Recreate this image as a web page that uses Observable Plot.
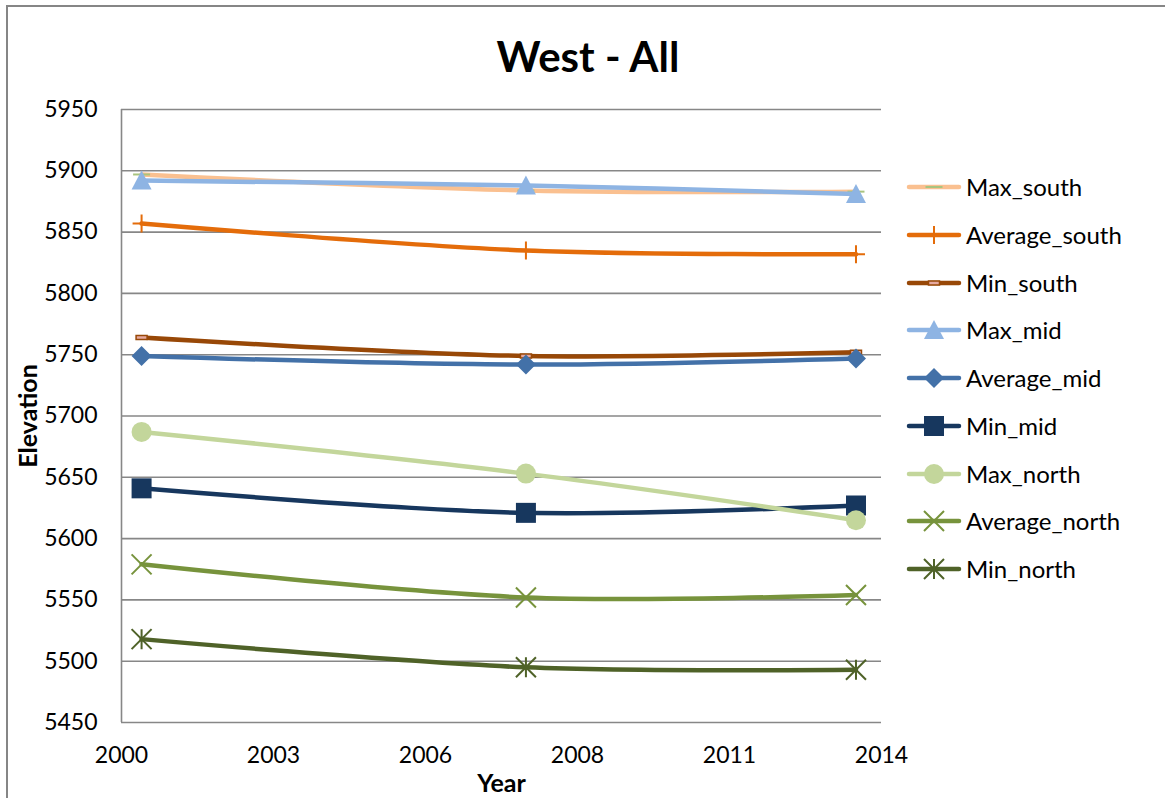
<!DOCTYPE html>
<html>
<head>
<meta charset="utf-8">
<script src="https://cdn.jsdelivr.net/npm/d3@7"></script>
<script src="https://cdn.jsdelivr.net/npm/@observablehq/plot@0.6"></script>
<style>
  html, body { margin: 0; padding: 0; background: #fff; }
  #chart { position: relative; width: 1165px; height: 798px; overflow: hidden; background: #fff; font-family: Lato, "Open Sans", sans-serif; }
  #border { position: absolute; left: 6px; top: 5px; width: 1200px; height: 900px; border: 2px solid #868686; box-sizing: border-box; }
  #title { position: absolute; left: 388px; width: 400px; top: 35px; line-height: 42px; font-size: 42px; font-weight: bold; text-align: center; color: #000; }
  #plot { position: absolute; left: 0; top: 0; }
  #legend { position: absolute; left: 900px; top: 0; }
  .item { position: absolute; left: 0; height: 40px; width: 265px; }
  .item svg { position: absolute; left: 0; top: 0; }
  .item span { position: absolute; left: 66px; top: 0; line-height: 40px; font-size: 24px; color: #000; white-space: nowrap; }
</style>
</head>
<body>
<div id="chart">
  <div id="border"></div>
  <div id="plot"></div>
  <div id="title">West - All</div>
  <div id="legend"></div>
</div>
<script>
// Survey years (fractional, mid-year dates) and elevations per zone
const years = [2000.37, 2007.45, 2013.53];

const seriesNames = ["Max_south", "Average_south", "Min_south", "Max_mid", "Average_mid", "Min_mid", "Max_north", "Average_north", "Min_north"];

const maxSouth     = [5897, 5884, 5883];
const averageSouth = [5857, 5835, 5832];
const minSouth     = [5764, 5749, 5752];
const maxMid       = [5892, 5888, 5881];
const averageMid   = [5749, 5742, 5747];
const minMid       = [5641, 5621, 5627];
const maxNorth     = [5687, 5653, 5615];
const averageNorth = [5579, 5552, 5554];
const minNorth     = [5518, 5495, 5493];

const seriesValues = [maxSouth, averageSouth, minSouth, maxMid, averageMid, minMid, maxNorth, averageNorth, minNorth];

const seriesColors = ["#FAC090", "#E46C0A", "#984807", "#8EB4E3", "#4371A8", "#17375E", "#C3D69B", "#77933C", "#4F6228"];

const yTicks = [5450, 5500, 5550, 5600, 5650, 5700, 5750, 5800, 5850, 5900, 5950];
const xTickValues = [2000, 2002.8, 2005.6, 2008.4, 2011.2, 2014];
const xTickLabels = ["2000", "2003", "2006", "2008", "2011", "2014"];

// Marker shapes drawn as custom symbols; size = π r², so h = r
const half = (size) => Math.sqrt(size / Math.PI);
const symbols = {
  dash: { draw(c, s) { const h = half(s); c.moveTo(-h * 0.85, 0); c.lineTo(h * 0.85, 0); } },
  plus: { draw(c, s) { const h = half(s) * 0.9; c.moveTo(-h, 0); c.lineTo(h, 0); c.moveTo(0, -h); c.lineTo(0, h); } },
  bar: { draw(c, s) { const h = half(s); c.rect(-h * 0.55, -h * 0.2, h * 1.1, h * 0.4); } },
  triangle: { draw(c, s) { const h = half(s); c.moveTo(0, -h); c.lineTo(h, h * 0.9); c.lineTo(-h, h * 0.9); c.closePath(); } },
  diamond: { draw(c, s) { const h = half(s); c.moveTo(0, -h); c.lineTo(h, 0); c.lineTo(0, h); c.lineTo(-h, 0); c.closePath(); } },
  square: { draw(c, s) { const h = half(s); c.rect(-h, -h, 2 * h, 2 * h); } },
  circle: { draw(c, s) { const h = half(s); c.moveTo(h, 0); c.arc(0, 0, h, 0, 2 * Math.PI); } },
  cross: { draw(c, s) { const h = half(s); c.moveTo(-h, -h); c.lineTo(h, h); c.moveTo(-h, h); c.lineTo(h, -h); } },
  star: { draw(c, s) { const h = half(s); c.moveTo(-h, -h); c.lineTo(h, h); c.moveTo(-h, h); c.lineTo(h, -h); c.moveTo(0, -h); c.lineTo(0, h); } }
};

// Marker style for each series
const markerStyles = [
  { symbol: symbols.dash, fill: "none", stroke: "#A9C47F", strokeWidth: 2 },
  { symbol: symbols.plus, fill: "none", stroke: "#E46C0A", strokeWidth: 2 },
  { symbol: symbols.bar, fill: "#E6A9A0", stroke: "#984807", strokeWidth: 1.5 },
  { symbol: symbols.triangle, fill: "#8EB4E3", stroke: "none", strokeWidth: 0 },
  { symbol: symbols.diamond, fill: "#4371A8", stroke: "none", strokeWidth: 0 },
  { symbol: symbols.square, fill: "#17375E", stroke: "none", strokeWidth: 0 },
  { symbol: symbols.circle, fill: "#C3D69B", stroke: "none", strokeWidth: 0 },
  { symbol: symbols.cross, fill: "none", stroke: "#77933C", strokeWidth: 2 },
  { symbol: symbols.star, fill: "none", stroke: "#4F6228", strokeWidth: 2 }
];

const rows = seriesNames.flatMap((name, i) =>
  years.map((year, j) => ({ series: name, year, value: seriesValues[i][j] }))
);

const seriesMarks = seriesNames.flatMap((name, i) => {
  const data = rows.filter((d) => d.series === name);
  const m = markerStyles[i];
  return [
    Plot.line(data, { x: "year", y: "value", stroke: seriesColors[i], strokeWidth: 4.5, curve: "catmull-rom", strokeLinecap: "round", strokeLinejoin: "round" }),
    Plot.dot(data, { x: "year", y: "value", symbol: m.symbol, r: 10, fill: m.fill, stroke: m.stroke, strokeWidth: m.strokeWidth })
  ];
});

const chart = Plot.plot({
  width: 1165,
  height: 798,
  marginLeft: 121,
  marginRight: 284,
  marginTop: 109,
  marginBottom: 76,
  style: { fontFamily: "Lato, 'Open Sans', sans-serif", background: "transparent", color: "#000" },
  x: { domain: [2000, 2014] },
  y: { domain: [5450, 5950] },
  marks: [
    Plot.ruleY(yTicks, { stroke: "#878787", strokeWidth: 1.6 }),
    Plot.ruleX([2000], { stroke: "#878787", strokeWidth: 1.6 }),
    Plot.axisY({ ticks: yTicks, tickSize: 0, tickPadding: 24, fontSize: 23, label: null, tickFormat: (d) => String(d) }),
    Plot.axisX({ ticks: xTickValues, tickSize: 0, tickPadding: 24, fontSize: 23, label: null, tickFormat: (d) => xTickLabels[xTickValues.indexOf(d)] }),
    Plot.text(["Elevation"], { frameAnchor: "left", dx: -93, rotate: -90, textAnchor: "middle", lineAnchor: "middle", fontSize: 25, fontWeight: "bold", fill: "#000" }),
    Plot.text(["Year"], { frameAnchor: "bottom", dy: 61, textAnchor: "middle", lineAnchor: "middle", fontSize: 25, fontWeight: "bold", fill: "#000" }),
    ...seriesMarks
  ]
});
document.getElementById("plot").append(chart);

// Legend: line sample with its marker, then the series name
const legend = document.getElementById("legend");
const legendTop = 187;
const legendStep = 47.75;
seriesNames.forEach((name, i) => {
  const m = markerStyles[i];
  const item = document.createElement("div");
  item.className = "item";
  const cy = legendTop + i * legendStep;
  item.style.top = (cy - 20) + "px";
  const p = d3.path();
  m.symbol.draw(p, Math.PI * 100);
  const svg = d3.create("svg").attr("width", 66).attr("height", 40);
  svg.append("line").attr("x1", 9).attr("x2", 59).attr("y1", 20).attr("y2", 20)
    .attr("stroke", seriesColors[i]).attr("stroke-width", 4.5).attr("stroke-linecap", "round");
  svg.append("path").attr("d", p.toString()).attr("transform", "translate(34,20)")
    .attr("fill", m.fill).attr("stroke", m.stroke).attr("stroke-width", m.strokeWidth);
  item.append(svg.node());
  const span = document.createElement("span");
  span.textContent = name;
  item.append(span);
  legend.append(item);
});
</script>
</body>
</html>
